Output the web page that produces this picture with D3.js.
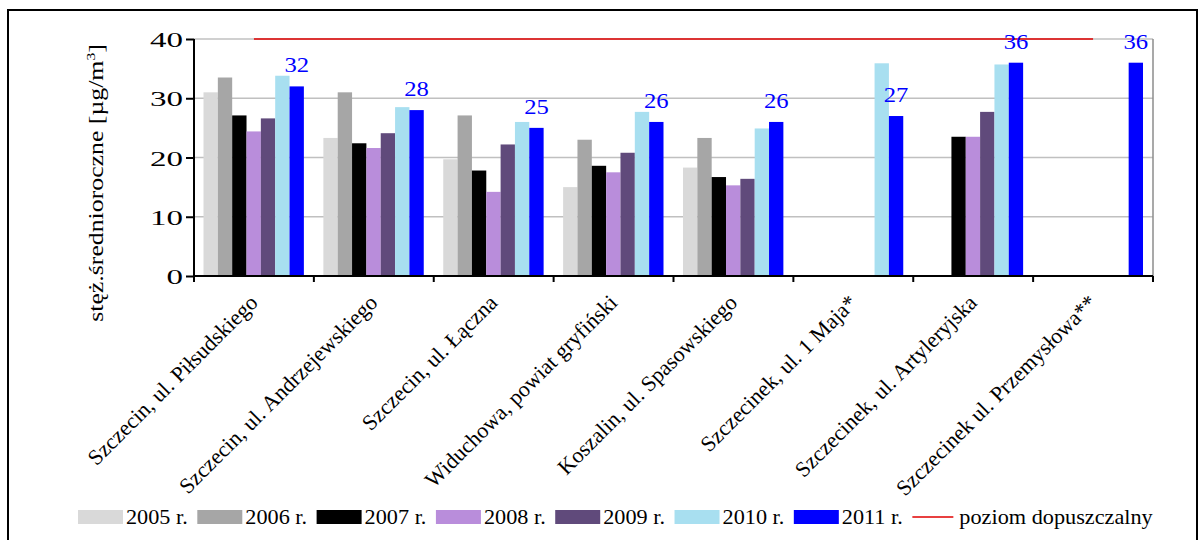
<!DOCTYPE html>
<html>
<head>
<meta charset="utf-8">
<script src="https://cdn.jsdelivr.net/npm/d3@7"></script>
<style>
  html, body { margin: 0; padding: 0; background: #fff; }
  svg { display: block; }
  svg text { font-family: "Liberation Serif", "Times New Roman", serif; }
</style>
</head>
<body>
<svg id="chart" width="1203" height="540" font-family="Liberation Serif"></svg>
<script>
// Measuring stations (categories)
const categories = [
  "Szczecin, ul. Piłsudskiego",
  "Szczecin, ul. Andrzejewskiego",
  "Szczecin, ul. Łączna",
  "Widuchowa, powiat gryfiński",
  "Koszalin, ul. Spasowskiego",
  "Szczecinek, ul. 1 Maja*",
  "Szczecinek, ul. Artyleryjska",
  "Szczecinek ul. Przemysłowa**"
];

// Series names (years)
const years = ["2005 r.", "2006 r.", "2007 r.", "2008 r.", "2009 r.", "2010 r.", "2011 r."];

// Annual mean concentrations per year [µg/m3]; null = no measurement
const values2005 = [31.0, 23.3, 19.7, 15.0, 18.3, null, null, null];
const values2006 = [33.5, 31.0, 27.1, 23.0, 23.3, null, null, null];
const values2007 = [27.1, 22.4, 17.8, 18.6, 16.7, null, 23.5, null];
const values2008 = [24.4, 21.6, 14.2, 17.5, 15.3, null, 23.5, null];
const values2009 = [26.6, 24.1, 22.2, 20.8, 16.4, null, 27.7, null];
const values2010 = [33.8, 28.5, 26.0, 27.7, 24.9, 35.9, 35.7, null];
const values2011 = [32, 28, 25, 26, 26, 27, 36, 36];

// Permissible level
const limitValue = 40;
const limitLabel = "poziom dopuszczalny";

// Y axis ticks
const yTicks = [0, 10, 20, 30, 40];

const seriesValues = [values2005, values2006, values2007, values2008, values2009, values2010, values2011];
const colors = ["#d9d9d9", "#a6a6a6", "#000000", "#b98ddb", "#604a7b", "#a8dff0", "#0000ff"];
const FONT = "Liberation Serif";

const svg = d3.select("#chart");

// outer frame
svg.append("rect")
  .attr("x", 8).attr("y", 10)
  .attr("width", 1189).attr("height", 540)
  .attr("fill", "none").attr("stroke", "#000").attr("stroke-width", 2);

const plot = { left: 194, right: 1153, top: 39, bottom: 276 };

const x = d3.scaleBand().domain(categories).range([plot.left, plot.right]).padding(0);
const xs = d3.scaleBand().domain(years)
  .range([9.5, x.bandwidth() - 10]).padding(0);
const y = d3.scaleLinear().domain([0, 40]).range([plot.bottom, plot.top]);

// gridlines
svg.append("g").selectAll("line").data(yTicks.filter(t => t > 0)).join("line")
  .attr("x1", plot.left).attr("x2", plot.right)
  .attr("y1", d => y(d)).attr("y2", d => y(d))
  .attr("stroke", "#c0c0c0").attr("stroke-width", 1.5);

// right border of plot area
svg.append("line")
  .attr("x1", plot.right).attr("x2", plot.right)
  .attr("y1", plot.top).attr("y2", plot.bottom)
  .attr("stroke", "#8c8c8c").attr("stroke-width", 1.5);

// bars
const rows = [];
seriesValues.forEach((vals, si) => {
  vals.forEach((v, ci) => {
    if (v !== null) rows.push({ cat: categories[ci], year: years[si], si, v });
  });
});

svg.append("g").selectAll("rect").data(rows).join("rect")
  .attr("x", d => x(d.cat) + xs(d.year))
  .attr("y", d => y(d.v))
  .attr("width", xs.bandwidth())
  .attr("height", d => y(0) - y(d.v))
  .attr("fill", d => colors[d.si]);

// permissible level line through category centres
const limitLine = d3.line()
  .x(d => x(d) + x.bandwidth() / 2)
  .y(() => y(limitValue));
svg.append("path")
  .datum(categories)
  .attr("d", limitLine)
  .attr("fill", "none").attr("stroke", "#e00000").attr("stroke-width", 1.3);

// value labels on 2011 bars
svg.append("g").selectAll("text").data(values2011).join("text")
  .attr("transform", (d, i) =>
    `translate(${x(categories[i]) + xs(years[6]) + xs.bandwidth() / 2},${y(d) - 14}) scale(1.12,1)`)
  .attr("text-anchor", "middle")
  .attr("fill", "#0000ff")
  .attr("font-family", FONT)
  .attr("font-size", 22)
  .text(d => d3.format(".0f")(d));

// y axis
const yAxis = d3.axisLeft(y).tickValues(yTicks).tickSize(8).tickPadding(3);
const gy = svg.append("g").attr("transform", `translate(${plot.left},0)`).call(yAxis);
gy.attr("font-family", FONT);
gy.select(".domain").attr("stroke-width", 2).attr("d", `M0,${plot.top}V${plot.bottom}`);
gy.selectAll(".tick line").attr("stroke-width", 2);
gy.selectAll(".tick text")
  .attr("font-size", 22).attr("font-family", FONT).attr("fill", "#000")
  .attr("x", 0).attr("dy", null).attr("y", 7.5)
  .attr("transform", "translate(-11,0) scale(1.5,1)");

// x axis (ticks between categories)
const gx = svg.append("g").attr("transform", `translate(0,${plot.bottom})`).attr("font-family", FONT);
gx.append("line").attr("x1", plot.left).attr("x2", plot.right)
  .attr("stroke", "#000").attr("stroke-width", 2);
const boundaries = categories.map(c => x(c)).concat([plot.right]);
gx.selectAll("line.tk").data(boundaries).join("line").attr("class", "tk")
  .attr("x1", d => d).attr("x2", d => d).attr("y1", 0).attr("y2", 6)
  .attr("stroke", "#000").attr("stroke-width", 2);

// rotated category labels
gx.selectAll("text").data(categories).join("text")
  .attr("text-anchor", "end")
  .attr("font-size", 22)
  .attr("transform", d => `translate(${x(d) + x.bandwidth() / 2 + 5},28) rotate(-45)`)
  .text(d => d);

// y axis title
const yt = svg.append("text")
  .attr("transform", `translate(103,183) rotate(-90) scale(1.2,1)`)
  .attr("text-anchor", "middle")
  .attr("font-family", FONT)
  .attr("font-size", 21.5);
yt.append("tspan").text("stęż.średnioroczne [µg/m");
yt.append("tspan").attr("font-size", 13).attr("dy", -8).text("3");
yt.append("tspan").attr("dy", 8).text("]");

// legend
const legendItems = years.map((yr, i) => ({ label: yr, color: colors[i], type: "rect" }))
  .concat([{ label: limitLabel, color: "#e00000", type: "line" }]);
const lg = svg.append("g").attr("transform", "translate(78,0)").attr("font-family", FONT);
let lx = 0;
legendItems.forEach(it => {
  const g = lg.append("g").attr("transform", `translate(${lx},0)`);
  if (it.type === "rect") {
    g.append("rect").attr("x", 0).attr("y", 510).attr("width", 45).attr("height", 14).attr("fill", it.color);
  } else {
    g.append("line").attr("x1", 0).attr("x2", 41).attr("y1", 517).attr("y2", 517)
      .attr("stroke", it.color).attr("stroke-width", 1.5);
  }
  const tx = it.type === "rect" ? 48 : 47;
  const t = g.append("text").attr("transform", `translate(${tx},524) scale(1.06,1)`)
    .attr("font-size", 21).text(it.label);
  lx += tx + t.node().getComputedTextLength() + 13;
});
</script>
</body>
</html>
